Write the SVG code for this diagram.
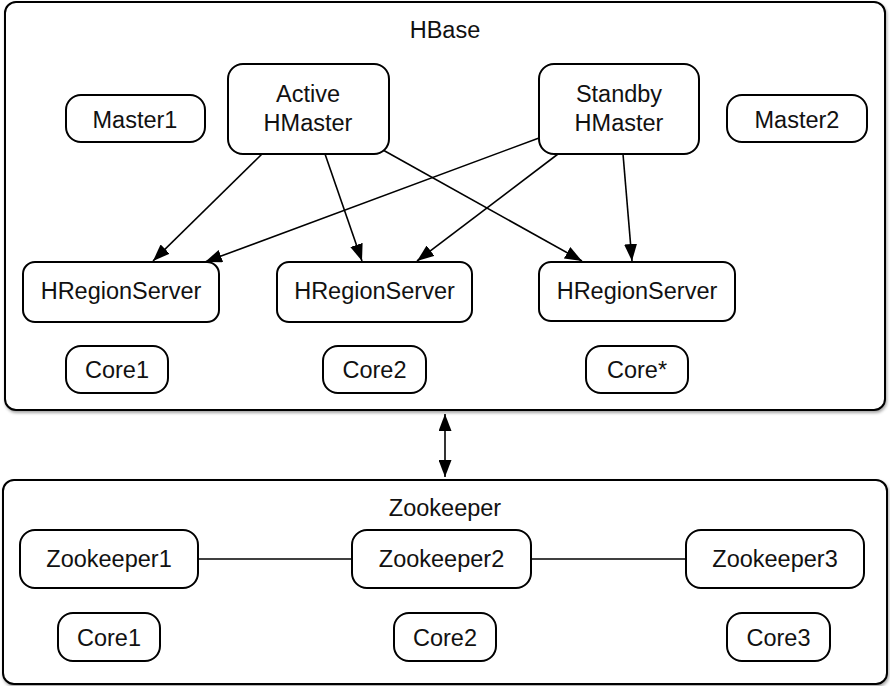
<svg xmlns="http://www.w3.org/2000/svg" width="890" height="686" viewBox="0 0 890 686">
<style>
.box{fill:#fff;stroke:#000;stroke-width:2}
.t{font-family:"Liberation Sans",Arial,Helvetica,sans-serif;font-size:23.5px;fill:#111;text-anchor:middle}
.edge{stroke:#000;stroke-width:1.6;fill:none}
</style>
<defs>
<filter id="sh" x="-5%" y="-5%" width="110%" height="115%">
<feDropShadow dx="1" dy="2" stdDeviation="1.5" flood-color="#000" flood-opacity="0.35"/>
</filter>
<marker id="ah" viewBox="0 0 17 13" refX="17" refY="6.5" markerWidth="17" markerHeight="13" markerUnits="userSpaceOnUse" orient="auto-start-reverse">
<path d="M0,0 L17,6.5 L0,13 Z" fill="#000"/>
</marker>
</defs>
<g id="hbase">
<rect class="box" x="5" y="2" width="880" height="408" rx="11" filter="url(#sh)"/>
<text class="t" x="445" y="38">HBase</text>
</g>
<g id="zookeeper">
<rect class="box" x="3" y="480" width="884" height="204" rx="11" filter="url(#sh)"/>
<text class="t" x="445" y="516">Zookeeper</text>
</g>
<g id="connectors">
<line class="edge" x1="262" y1="154" x2="153" y2="261" marker-end="url(#ah)"/>
<line class="edge" x1="325" y1="154" x2="362" y2="261" marker-end="url(#ah)"/>
<line class="edge" x1="383" y1="150" x2="582" y2="261" marker-end="url(#ah)"/>
<line class="edge" x1="539" y1="138" x2="205" y2="262" marker-end="url(#ah)"/>
<line class="edge" x1="558" y1="154" x2="417" y2="261" marker-end="url(#ah)"/>
<line class="edge" x1="623" y1="154" x2="632" y2="261" marker-end="url(#ah)"/>
<line class="edge" x1="445" y1="414" x2="445" y2="477" marker-start="url(#ah)" marker-end="url(#ah)"/>
<line class="edge" x1="198" y1="559" x2="352" y2="559"/>
<line class="edge" x1="531" y1="559" x2="686" y2="559"/>
</g>
<g id="master1"><rect class="box" x="66" y="95" width="139" height="47" rx="15"/><text class="t" x="135" y="128">Master1</text></g>
<g id="active-hmaster"><rect class="box" x="228" y="64" width="161" height="90" rx="15"/><text class="t" x="308" y="102">Active</text><text class="t" x="308" y="131">HMaster</text></g>
<g id="standby-hmaster"><rect class="box" x="539" y="64" width="160" height="90" rx="15"/><text class="t" x="619" y="102">Standby</text><text class="t" x="619" y="131">HMaster</text></g>
<g id="master2"><rect class="box" x="727" y="95" width="140" height="47" rx="15"/><text class="t" x="797" y="128">Master2</text></g>
<g id="hrs1"><rect class="box" x="23" y="262" width="196" height="60" rx="12"/><text class="t" x="121" y="299">HRegionServer</text></g>
<g id="hrs2"><rect class="box" x="277" y="262" width="195" height="60" rx="12"/><text class="t" x="374.5" y="299">HRegionServer</text></g>
<g id="hrs3"><rect class="box" x="539" y="262" width="196" height="59" rx="12"/><text class="t" x="637" y="299">HRegionServer</text></g>
<g id="core1-hbase"><rect class="box" x="66" y="346" width="102" height="47" rx="15"/><text class="t" x="117" y="378">Core1</text></g>
<g id="core2-hbase"><rect class="box" x="323" y="346" width="103" height="47" rx="15"/><text class="t" x="374.5" y="378">Core2</text></g>
<g id="corestar-hbase"><rect class="box" x="586" y="346" width="102" height="47" rx="15"/><text class="t" x="637" y="378">Core*</text></g>
<g id="zookeeper1"><rect class="box" x="20" y="530" width="178" height="58" rx="15"/><text class="t" x="109" y="567">Zookeeper1</text></g>
<g id="zookeeper2"><rect class="box" x="352" y="530" width="179" height="58" rx="15"/><text class="t" x="441.5" y="567">Zookeeper2</text></g>
<g id="zookeeper3"><rect class="box" x="686" y="530" width="178" height="58" rx="15"/><text class="t" x="775" y="567">Zookeeper3</text></g>
<g id="core1-zk"><rect class="box" x="58" y="613" width="102" height="48" rx="15"/><text class="t" x="109" y="646">Core1</text></g>
<g id="core2-zk"><rect class="box" x="394" y="613" width="102" height="48" rx="15"/><text class="t" x="445" y="646">Core2</text></g>
<g id="core3-zk"><rect class="box" x="727" y="613" width="103" height="48" rx="15"/><text class="t" x="778.5" y="646">Core3</text></g>
</svg>
